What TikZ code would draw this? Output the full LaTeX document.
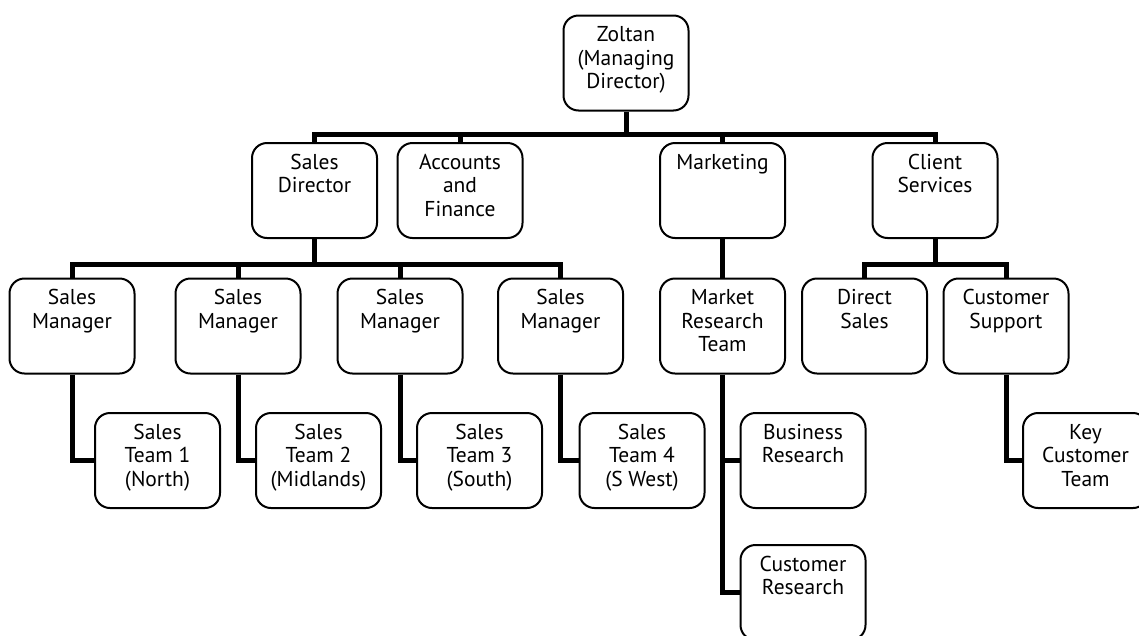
\documentclass[tikz,border=0pt]{standalone}
\usepackage{fontspec}
\setmainfont{PT Sans}
\usetikzlibrary{backgrounds}
\tikzset{
  orgbox/.style={draw=black, line width=2pt, rounded corners=15pt, fill=white,
    inner sep=0pt, minimum width=125pt, minimum height=95pt,
    font=\fontsize{21.5}{23.5}\selectfont},
  conn/.style={line width=5pt, line join=miter, draw=black}
}
\newcommand{\bt}[1]{\parbox[c][95pt][t]{125pt}{\centering\rule{0pt}{26pt}#1}}
\begin{document}
\begin{tikzpicture}[x=1pt,y=-1pt]
\useasboundingbox (0,0) rectangle (1139,635);
% level 1
\node[orgbox] (Z) at (626,63) {\bt{Zoltan\\(Managing\\Director)}};
% level 2
\node[orgbox] (SD) at (314.5,190.5) {\bt{Sales\\Director}};
\node[orgbox] (AF) at (460,190.5) {\bt{Accounts\\and\\Finance}};
\node[orgbox] (MK) at (722.5,190.5) {\bt{Marketing}};
\node[orgbox] (CS) at (935,190.5) {\bt{Client\\Services}};
% level 3
\node[orgbox] (M1) at (72,326) {\bt{Sales\\Manager}};
\node[orgbox] (M2) at (238,326) {\bt{Sales\\Manager}};
\node[orgbox] (M3) at (400,326) {\bt{Sales\\Manager}};
\node[orgbox] (M4) at (560.5,326) {\bt{Sales\\Manager}};
\node[orgbox] (MR) at (722.5,326) {\bt{Market\\Research\\Team}};
\node[orgbox] (DS) at (864.5,326) {\bt{Direct\\Sales}};
\node[orgbox] (CSu) at (1006,326) {\bt{Customer\\Support}};
% level 4
\node[orgbox] (T1) at (157.5,460.5) {\bt{Sales\\Team 1\\(North)}};
\node[orgbox] (T2) at (318.5,460.5) {\bt{Sales\\Team 2\\(Midlands)}};
\node[orgbox] (T3) at (479.5,460.5) {\bt{Sales\\Team 3\\(South)}};
\node[orgbox] (T4) at (642,460.5) {\bt{Sales\\Team 4\\(S West)}};
\node[orgbox] (BR) at (803,460.5) {\bt{Business\\Research}};
\node[orgbox] (KC) at (1085.5,460.5) {\bt{Key\\Customer\\Team}};
\node[orgbox] (CR) at (803,592.5) {\bt{Customer\\Research}};
\coordinate (b1) at (0,134);
\coordinate (b2) at (0,264);
\begin{scope}[on background layer]
\draw[conn] (SD.north) |- (CS.north |- b1) -- (CS.north);
\draw[conn] (Z.south) -- (Z.south |- b1);
\draw[conn] (AF.north) -- (AF.north |- b1);
\draw[conn] (MK.north) -- (MK.north |- b1);
\draw[conn] (M1.north) |- (M4.north |- b2) -- (M4.north);
\draw[conn] (SD.south) -- (SD.south |- b2);
\draw[conn] (M2.north) -- (M2.north |- b2);
\draw[conn] (M3.north) -- (M3.north |- b2);
\draw[conn] (MK.south) -- (MR.north);
\draw[conn] (DS.north) |- (CSu.north |- b2) -- (CSu.north);
\draw[conn] (CS.south) -- (CS.south |- b2);
\draw[conn] (M1.south) |- (T1.west);
\draw[conn] (M2.south) |- (T2.west);
\draw[conn] (M3.south) |- (T3.west);
\draw[conn] (M4.south) |- (T4.west);
\draw[conn] (MR.south) |- (CR.west);
\draw[conn] (MR.south |- BR.west) -- (BR.west);
\draw[conn] (CSu.south) |- (KC.west);
\end{scope}
\end{tikzpicture}
\end{document}
